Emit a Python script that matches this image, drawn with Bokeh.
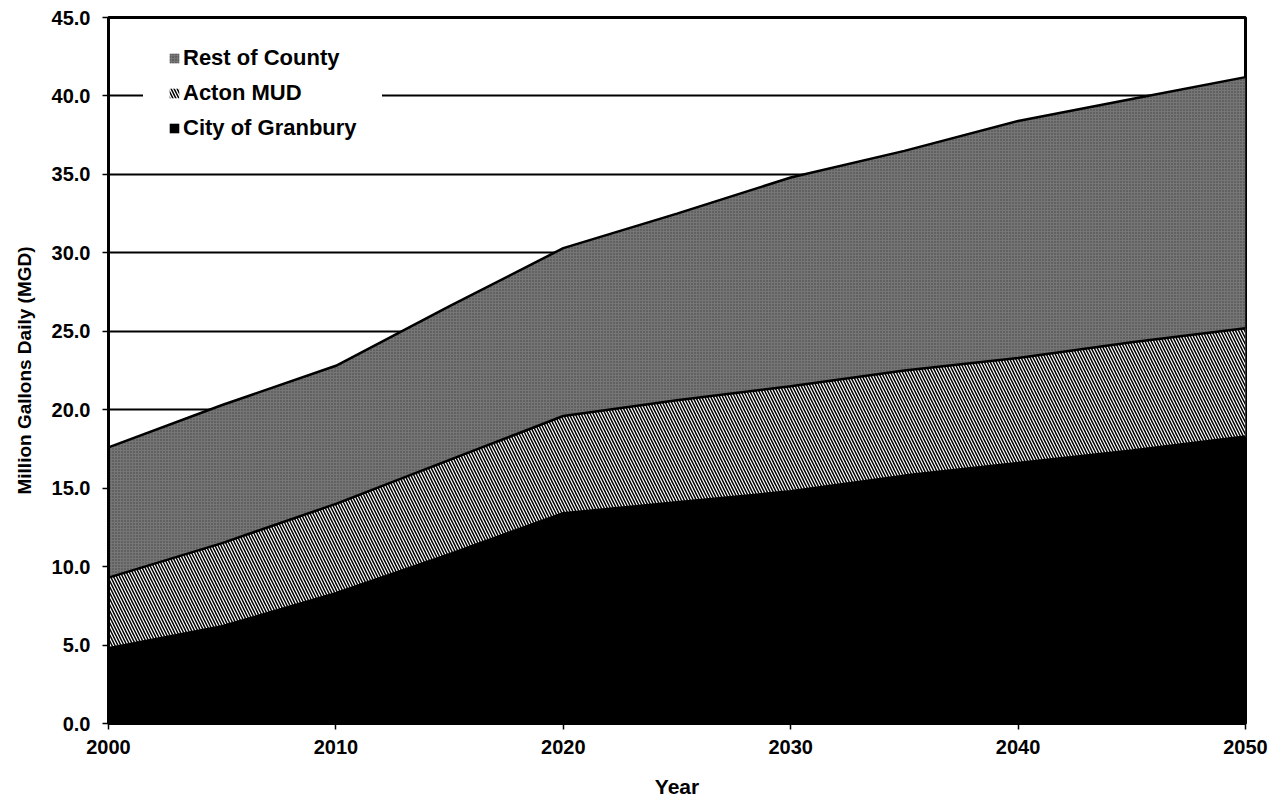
from bokeh.plotting import figure
from bokeh.models import ColumnDataSource, Legend, LegendItem, FixedTicker, Range1d, CustomJSTickFormatter
from bokeh.transform import stack
from bokeh.embed import file_html
from bokeh.resources import INLINE

# ---- data (MGD) ----
years = [2000, 2005, 2010, 2015, 2020, 2025, 2030, 2035, 2040, 2045, 2050]
city_of_granbury = [4.8, 6.2, 8.3, 10.8, 13.4, 14.1, 14.8, 15.8, 16.6, 17.4, 18.3]
acton_mud = [4.5, 5.3, 5.7, 6.0, 6.2, 6.5, 6.7, 6.7, 6.7, 6.9, 6.9]
rest_of_county = [8.3, 8.8, 8.8, 9.8, 10.7, 11.9, 13.3, 14.0, 15.1, 15.5, 16.0]

x_ticks = [2000, 2010, 2020, 2030, 2040, 2050]
y_ticks = [0, 5, 10, 15, 20, 25, 30, 35, 40, 45]

FONT = "Liberation Sans"

src = ColumnDataSource(dict(year=years, granbury=city_of_granbury,
                            acton=acton_mud, rest=rest_of_county))

p = figure(width=1273, height=806, output_backend="svg", toolbar_location=None,
           x_range=Range1d(2000, 2050), y_range=Range1d(0, 45),
           min_border_left=108, min_border_right=28, min_border_top=17,
           min_border_bottom=83)

r_city = p.varea(x="year", y1=stack(), y2=stack("granbury"), source=src,
                 fill_color="black")
r_acton = p.varea(x="year", y1=stack("granbury"), y2=stack("granbury", "acton"),
                  source=src, fill_color="white",
                  hatch_pattern="left_diagonal_line", hatch_color="black",
                  hatch_scale=6, hatch_weight=1.5)
r_rest = p.varea(x="year", y1=stack("granbury", "acton"),
                 y2=stack("granbury", "acton", "rest"), source=src,
                 fill_color="#767676", hatch_pattern="dot", hatch_color="#1a1a1a",
                 hatch_scale=3, hatch_weight=1, hatch_alpha=0.6)

for cols in (("granbury",), ("granbury", "acton"), ("granbury", "acton", "rest")):
    p.line(x="year", y=stack(*cols), source=src, line_color="black", line_width=2.5)

# axes
p.xaxis.ticker = FixedTicker(ticks=x_ticks)
p.yaxis.ticker = FixedTicker(ticks=y_ticks)
p.yaxis.formatter = CustomJSTickFormatter(code="return tick.toFixed(1);")
for ax in (p.xaxis[0], p.yaxis[0]):
    ax.major_label_text_font = FONT
    ax.major_label_text_font_style = "bold"
    ax.major_label_text_font_size = "20px"
    ax.major_label_text_color = "black"
    ax.axis_label_text_font = FONT
    ax.axis_label_text_font_style = "bold"
    ax.axis_label_text_color = "black"
    ax.axis_line_color = "black"
    ax.axis_line_width = 3
    ax.major_tick_line_color = "black"
    ax.major_tick_line_width = 1.5
    ax.major_tick_out = 6
    ax.major_tick_in = 0
    ax.minor_tick_line_color = None

p.xaxis.major_label_standoff = 10
p.yaxis.major_label_standoff = 12
p.xaxis.axis_label = "Year"
p.xaxis.axis_label_text_font_size = "21px"
p.xaxis.axis_label_standoff = 18
p.yaxis.axis_label = "Million Gallons Daily (MGD)"
p.yaxis.axis_label_text_font_size = "19px"
p.yaxis.axis_label_standoff = 14

p.xgrid.grid_line_color = None
p.ygrid.ticker = FixedTicker(ticks=y_ticks)
p.ygrid.grid_line_color = "black"
p.ygrid.grid_line_width = 2
p.ygrid.level = "underlay"

p.outline_line_color = "black"
p.outline_line_width = 3
p.background_fill_color = "white"
p.border_fill_color = "white"

legend = Legend(items=[
    LegendItem(label="Rest of County", renderers=[r_rest]),
    LegendItem(label="Acton MUD", renderers=[r_acton]),
    LegendItem(label="City of Granbury", renderers=[r_city]),
], location=(35, 557))
legend.label_text_font = FONT
legend.label_text_font_style = "bold"
legend.label_text_font_size = "22px"
legend.label_text_color = "black"
legend.glyph_width = 12
legend.glyph_height = 12
legend.label_standoff = 3
legend.label_height = 20
legend.spacing = 9
legend.padding = 25
legend.border_line_alpha = 0
legend.background_fill_color = "white"
legend.background_fill_alpha = 1
p.add_layout(legend)

open("out.html", "w").write(file_html(p, INLINE))
